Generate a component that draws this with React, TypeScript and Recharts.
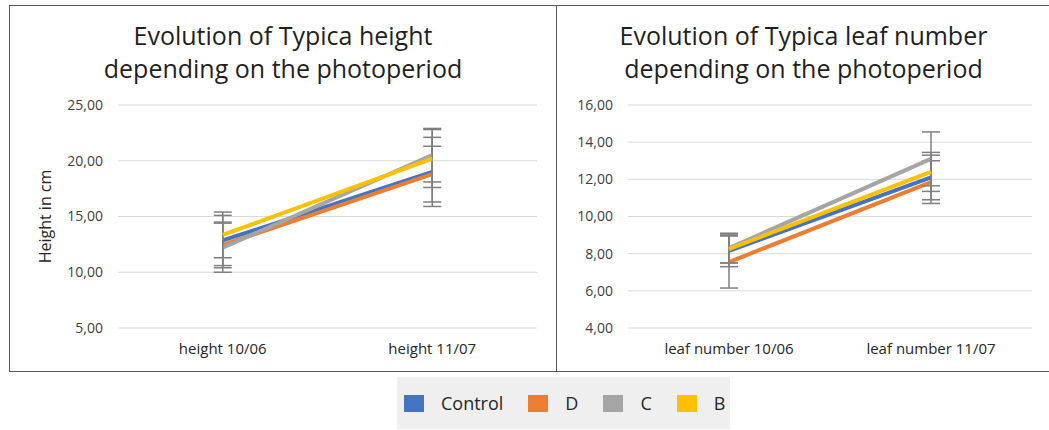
import React from "react";
import { LineChart, Line, XAxis, YAxis, CartesianGrid, ErrorBar } from "recharts";

const heightCategories = ["height 10/06", "height  11/07"];
const leafCategories = ["leaf number 10/06", "leaf number 11/07"];

const seriesNames = ["Control", "D", "C", "B"];
const seriesColors = ["#4472C4", "#ED7D31", "#A5A5A5", "#FFC000"];

// height in cm, per series, per date
const heightControl = [12.85, 19.0];
const heightD = [12.45, 18.8];
const heightC = [12.2, 20.5];
const heightB = [13.35, 20.2];
const heightControlErr = [2.25, 3.1];
const heightDErr = [2.05, 2.5];
const heightCErr = [2.2, 2.4];
const heightBErr = [2.05, 2.6];
const heightTicks = [5, 10, 15, 20, 25];

// leaf number
const leafControl = [8.15, 12.1];
const leafD = [7.55, 11.85];
const leafC = [8.3, 13.1];
const leafB = [8.25, 12.4];
const leafControlErr = [0.85, 1.2];
const leafDErr = [1.4, 1.15];
const leafCErr = [0.8, 1.45];
const leafBErr = [0.75, 1.05];
const leafTicks = [4, 6, 8, 10, 12, 14, 16];

const buildRows = (cats: string[], vals: number[][], errs: number[][]) =>
  cats.map((cat, i) => {
    const row: any = { cat };
    seriesNames.forEach((s, k) => {
      row[s] = vals[k][i];
      row[s + "_err"] = errs[k][i];
    });
    return row;
  });

const heightData = buildRows(
  heightCategories,
  [heightControl, heightD, heightC, heightB],
  [heightControlErr, heightDErr, heightCErr, heightBErr]
);
const leafData = buildRows(
  leafCategories,
  [leafControl, leafD, leafC, leafB],
  [leafControlErr, leafDErr, leafCErr, leafBErr]
);

const FONT = "'Open Sans', 'Noto Sans', sans-serif";
const fmt = (v: number) => v.toFixed(2).replace(".", ",");

function Panel(props: {
  data: any[];
  ticks: number[];
  domain: [number, number];
  width: number;
  left: number;
  right: number;
  title: string[];
  yLabel?: string;
}) {
  const { data, ticks, domain, width, left, right, title, yLabel } = props;
  return (
    <div style={{ position: "relative", width, height: 365 }}>
      <div
        style={{
          position: "absolute",
          top: 13,
          left: 0,
          width: "100%",
          textAlign: "center",
          fontFamily: FONT,
          fontSize: 25,
          lineHeight: "33px",
          color: "#1f1f1f",
        }}
      >
        {title.map((t) => (
          <div key={t}>{t}</div>
        ))}
      </div>
      <LineChart
        width={width}
        height={365}
        data={data}
        margin={{ top: 99, right: right, bottom: 0, left: 0 }}
        style={{ position: "absolute", top: 0, left: 0 }}
      >
        <CartesianGrid vertical={false} stroke="#d9d9d9" />
        <XAxis
          dataKey="cat"
          scale="band"
          height={43}
          axisLine={false}
          tickLine={false}
          tickSize={0}
          tickMargin={15}
          tick={{ fontSize: 15, fill: "#262626", fontFamily: FONT, style: { whiteSpace: "pre" } }}
          interval={0}
        />
        <YAxis
          width={left}
          domain={domain}
          ticks={ticks}
          axisLine={false}
          tickLine={false}
          tickSize={0}
          tickMargin={15}
          tickFormatter={fmt}
          tick={{ fontSize: 14, fill: "#404040", fontFamily: FONT }}
          label={
            yLabel
              ? {
                  value: yLabel,
                  angle: -90,
                  position: "insideLeft",
                  dx: 30,
                  style: { fontSize: 16, fill: "#262626", fontFamily: FONT, textAnchor: "middle" },
                }
              : undefined
          }
        />
        {seriesNames.map((s, k) => (
          <Line
            key={s}
            type="linear"
            dataKey={s}
            stroke={seriesColors[k]}
            strokeWidth={4}
            dot={false}
            activeDot={false}
            isAnimationActive={false}
          >
            <ErrorBar dataKey={s + "_err"} width={9} stroke="#7f7f7f" strokeWidth={1.5} />
          </Line>
        ))}
      </LineChart>
    </div>
  );
}

export default function App() {
  return (
    <div
      style={{
        position: "fixed",
        left: 0,
        top: 0,
        width: 1049,
        height: 430,
        background: "#fff",
        overflow: "hidden",
      }}
    >
      <div
        style={{
          position: "absolute",
          left: 9,
          top: 5,
          width: 1045,
          height: 365,
          border: "1px solid #595959",
          display: "flex",
        }}
      >
        <div style={{ borderRight: "1px solid #595959" }}>
          <Panel
            data={heightData}
            ticks={heightTicks}
            domain={[5, 25]}
            width={546}
            left={108}
            right={19}
            title={["Evolution of Typica height", "depending on the photoperiod"]}
            yLabel="Height in cm"
          />
        </div>
        <Panel
          data={leafData}
          ticks={leafTicks}
          domain={[4, 16]}
          width={493}
          left={71}
          right={18}
          title={["Evolution of Typica leaf number", "depending on the photoperiod"]}
        />
      </div>
      <div
        style={{
          position: "absolute",
          left: 397,
          top: 377,
          width: 333,
          height: 52,
          background: "#efefef",
          display: "flex",
          alignItems: "center",
          paddingLeft: 7,
          boxSizing: "border-box",
          fontFamily: FONT,
          fontSize: 18,
          color: "#262626",
        }}
      >
        {seriesNames.map((s, k) => (
          <div key={s} style={{ display: "flex", alignItems: "center", marginRight: 25 }}>
            <div style={{ width: 20, height: 17, background: seriesColors[k], marginRight: 17 }} />
            <span>{s}</span>
          </div>
        ))}
      </div>
    </div>
  );
}
